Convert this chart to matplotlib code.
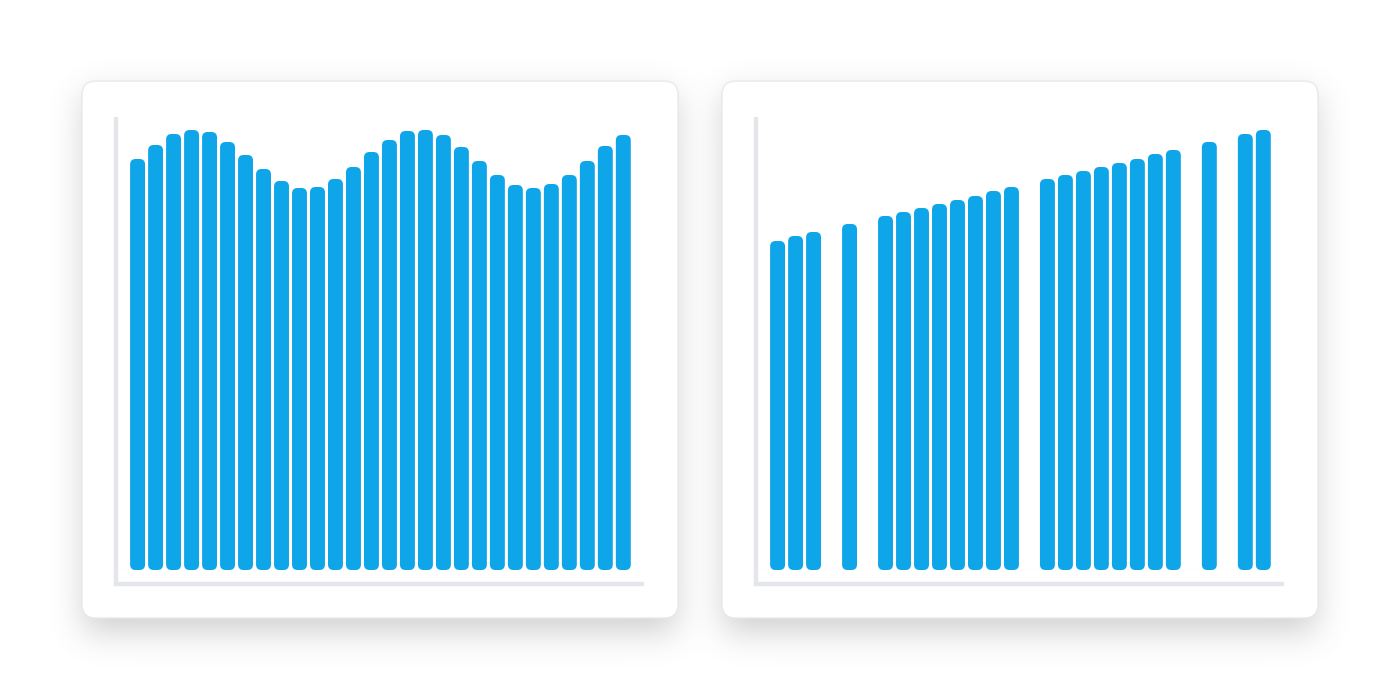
import numpy as np
import matplotlib
matplotlib.use("Agg")
import matplotlib.pyplot as plt
from matplotlib.patches import FancyBboxPatch

# bar heights, 28 slots per panel (right panel has gaps)
left_values = [41.1, 42.5, 43.6, 44.0, 43.8, 42.8, 41.5, 40.1, 38.9, 38.2,
               38.3, 39.1, 40.3, 41.8, 43.0, 43.9, 44.0, 43.5, 42.3, 40.9,
               39.5, 38.5, 38.2, 38.6, 39.5, 40.9, 42.4, 43.5]
right_values = [32.9, 33.4, 33.8, np.nan, 34.6, np.nan, 35.4, 35.8, 36.2, 36.6,
                37.0, 37.4, 37.9, 38.3, np.nan, 39.1, 39.5, 39.9, 40.3, 40.7,
                41.1, 41.6, 42.0, np.nan, 42.8, np.nan, 43.6, 44.0]
slots = np.arange(28)

BAR = "#0ea5e9"
AXIS = "#e4e6e9"
W, H = 1400, 700

fig = plt.figure(figsize=(14, 7), dpi=100)
fig.patch.set_facecolor("white")

# background layer in pixel coords: shadows + cards
bg = fig.add_axes([0, 0, 1, 1], zorder=0)
bg.set_xlim(0, W)
bg.set_ylim(H, 0)
bg.axis("off")

cards = [(82, 81, 596, 537), (722, 81, 596, 537)]

# soft drop shadow
mask = np.zeros((H, W))
for (cx, cy, cw, ch) in cards:
    mask[cy + 14:cy + ch + 14, cx + 2:cx + cw - 2] = 1.0

def gauss_matrix(n, sigma):
    idx = np.arange(n)
    k = np.exp(-0.5 * ((idx[:, None] - idx[None, :]) / sigma) ** 2)
    return k / k.sum(axis=1, keepdims=True)

blur = gauss_matrix(H, 16) @ mask @ gauss_matrix(W, 16).T
shadow = np.zeros((H, W, 4))
shadow[..., :3] = 0.42
shadow[..., 3] = 0.32 * blur
bg.imshow(shadow, extent=(0, W, H, 0), zorder=1, interpolation="bilinear")
bg.set_xlim(0, W)
bg.set_ylim(H, 0)

for (cx, cy, cw, ch) in cards:
    bg.add_patch(FancyBboxPatch((cx, cy), cw, ch,
                                boxstyle="round,pad=0,rounding_size=14",
                                facecolor="white", edgecolor="#e9e9e9",
                                linewidth=1, zorder=2))


def px(x, y):
    # pixel (from top-left) to figure fraction
    return x / W, 1 - y / H


def draw_panel(offset, values):
    left, top, right, base, axis_y = 116 + offset, 117, 644 + offset, 570, 584
    x0, y0 = px(left, base)
    x1, y1 = px(right, top)
    ax = fig.add_axes([x0, y0, x1 - x0, y1 - y0], zorder=3)
    ax.patch.set_alpha(0)
    ax.set_xlim(-1.2, 28.15)
    ax.set_ylim(0, (base - top) / 10)
    for s in ax.spines.values():
        s.set_visible(False)
    ax.set_xticks([])
    ax.set_yticks([])

    # axis lines (offset below the bar baseline)
    drop = (axis_y - base) / (base - top)
    ax.plot([0, 0], [-drop - 0.004, 1], transform=ax.transAxes, color=AXIS,
            lw=3.2, clip_on=False, solid_capstyle="butt")
    ax.plot([-0.004, 1], [-drop, -drop], transform=ax.transAxes, color=AXIS,
            lw=3.2, clip_on=False, solid_capstyle="butt")
    ax.axhline(0, color="#f1f2f4", lw=1, zorder=1)

    bars = ax.bar(slots, values, width=0.83, color=BAR)
    fig.canvas.draw()
    t = ax.transData
    dx = t.transform((1, 0))[0] - t.transform((0, 0))[0]
    dy = t.transform((0, 1))[1] - t.transform((0, 0))[1]
    aspect = dx / dy
    for r in list(bars):
        h = r.get_height()
        r.remove()
        if not np.isfinite(h):
            continue
        ax.add_patch(FancyBboxPatch((r.get_x(), 0), r.get_width(), h,
                                    boxstyle="round,pad=0,rounding_size=%f" % (5.5 / dx),
                                    mutation_aspect=aspect,
                                    facecolor=BAR, edgecolor="none", zorder=2))


draw_panel(0, left_values)
draw_panel(640, right_values)

fig.savefig("out.png", dpi=100, facecolor="white")
